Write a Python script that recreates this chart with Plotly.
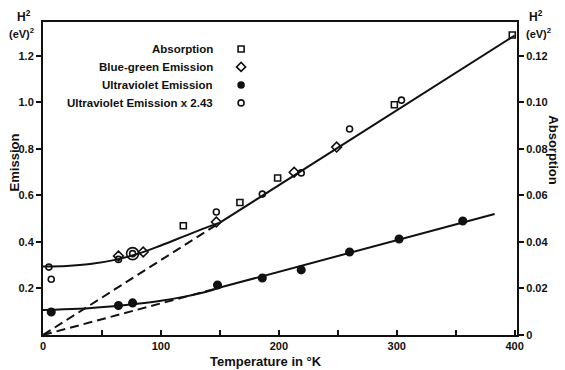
import plotly.graph_objects as go

# ---- data ----
abs_T = [119, 167, 199, 298, 398]
abs_H = [0.047, 0.057, 0.0675, 0.099, 0.129]          # absorption, right axis

bg_T = [64, 85, 147, 213, 249]
bg_H = [0.340, 0.357, 0.486, 0.700, 0.808]             # blue-green emission

uv_T = [7, 64, 76, 148, 186, 219, 260, 302, 356]
uv_H = [0.099, 0.127, 0.138, 0.215, 0.245, 0.280, 0.357, 0.413, 0.490]

uvx_T = [5, 7, 64, 76, 147, 186, 219, 260, 304]
uvx_H = [0.292, 0.240, 0.325, 0.350, 0.529, 0.606, 0.697, 0.886, 1.010]

coinc_T = [76]
coinc_H = [0.350]

# fitted curves
up_curve_T = [0, 20, 40, 60, 80, 100, 120, 140, 150]
up_curve_H = [0.295, 0.297, 0.305, 0.322, 0.348, 0.385, 0.425, 0.465, 0.483]
up_line_T = [150, 400]
up_line_H = [0.483, 1.288]
up_dash_T = [0, 150]
up_dash_H = [0.0, 0.483]

lo_curve_T = [0, 30, 60, 80, 100, 120, 140, 150]
lo_curve_H = [0.108, 0.113, 0.124, 0.134, 0.147, 0.165, 0.188, 0.204]
lo_line_T = [150, 383]
lo_line_H = [0.204, 0.520]
lo_dash_T = [0, 150]
lo_dash_H = [0.0, 0.204]

x_ticks = [0, 100, 200, 300, 400]
x_ticktext = ["0", "100", "200", "300", "400"]
x_minor_ticks = [50, 150, 250, 350]
yl_ticks = [0.2, 0.4, 0.6, 0.8, 1.0, 1.2]
yl_ticktext = ["0.2", "0.4", "0.6", "0.8", "1.0", "1.2"]
yr_ticks = [0, 0.02, 0.04, 0.06, 0.08, 0.10, 0.12]
yr_ticktext = ["0", "0.02", "0.04", "0.06", "0.08", "0.10", "0.12"]

legend_labels = ["Absorption", "Blue-green Emission", "Ultraviolet Emission",
                 "Ultraviolet Emission x 2.43"]
legend_symbols = ["square-open", "diamond-open", "circle", "circle-open"]
legend_key_x = 168
legend_key_y = [1.230, 1.153, 1.075, 0.998]

FONT = "Liberation Sans, Arial, sans-serif"
BLK = "#111111"

fig = go.Figure()

def line(x, y, dash="solid", yaxis="y"):
    fig.add_trace(go.Scatter(x=x, y=y, mode="lines", yaxis=yaxis,
                             line=dict(color=BLK, width=2, dash=dash, shape="spline"),
                             showlegend=False, hoverinfo="skip"))

line(up_curve_T, up_curve_H)
line(up_line_T, up_line_H)
line(up_dash_T, up_dash_H, dash="9px,5px")
line(lo_curve_T, lo_curve_H)
line(lo_line_T, lo_line_H)
line(lo_dash_T, lo_dash_H, dash="9px,5px")

def pts(x, y, symbol, size, yaxis="y"):
    fig.add_trace(go.Scatter(
        x=x, y=y, mode="markers", yaxis=yaxis, showlegend=False,
        marker=dict(symbol=symbol, size=size, color=BLK,
                    line=dict(color=BLK, width=1.6))))

pts(abs_T, abs_H, "square-open", 6, yaxis="y2")
pts(bg_T, bg_H, "diamond-open", 7.5)
pts(uv_T, uv_H, "circle", 7.5)
pts(uvx_T, uvx_H, "circle-open", 6)
pts(coinc_T, coinc_H, "circle-open", 12)

# legend keys
for sym, ky in zip(legend_symbols, legend_key_y):
    pts([legend_key_x], [ky], sym, 6 if sym != "diamond-open" else 7)

annotations = []
for lab, ky in zip(legend_labels, legend_key_y):
    annotations.append(dict(x=legend_key_x - 22, y=ky, xref="x", yref="y",
                            text=lab, showarrow=False, xanchor="right",
                            yanchor="middle",
                            font=dict(family=FONT, size=11.5, color=BLK, weight="bold")))

annotations += [
    dict(x=-0.06, y=0.55, xref="paper", yref="paper", text="Emission",
         textangle=-90, showarrow=False, xanchor="center", yanchor="middle",
         font=dict(family=FONT, size=13, color=BLK, weight="bold")),
    dict(x=1.078, y=0.59, xref="paper", yref="paper", text="Absorption",
         textangle=90, showarrow=False, xanchor="center", yanchor="middle",
         font=dict(family=FONT, size=13, color=BLK, weight="bold")),
    dict(x=0.47, y=-0.085, xref="paper", yref="paper", text="Temperature in °K",
         showarrow=False, xanchor="center", yanchor="middle",
         font=dict(family=FONT, size=13, color=BLK, weight="bold")),
    dict(x=-0.04, y=1.02, xref="paper", yref="paper", text="H<sup>2</sup>",
         showarrow=False, xanchor="center", yanchor="middle",
         font=dict(family=FONT, size=12, color=BLK, weight="bold")),
    dict(x=-0.045, y=0.965, xref="paper", yref="paper", text="(eV)<sup>2</sup>",
         showarrow=False, xanchor="center", yanchor="middle",
         font=dict(family=FONT, size=11, color=BLK, weight="bold")),
    dict(x=1.04, y=1.02, xref="paper", yref="paper", text="H<sup>2</sup>",
         showarrow=False, xanchor="center", yanchor="middle",
         font=dict(family=FONT, size=12, color=BLK, weight="bold")),
    dict(x=1.045, y=0.965, xref="paper", yref="paper", text="(eV)<sup>2</sup>",
         showarrow=False, xanchor="center", yanchor="middle",
         font=dict(family=FONT, size=11, color=BLK, weight="bold")),
]

tickfont = dict(family=FONT, size=11, color=BLK, weight="bold")

fig.update_layout(
    width=565, height=370,
    margin=dict(l=43, r=48, t=22, b=35),
    paper_bgcolor="white", plot_bgcolor="white",
    showlegend=False,
    annotations=annotations,
    xaxis=dict(range=[0, 402], tickvals=x_ticks, ticktext=x_ticktext,
               ticks="inside", ticklen=5, tickwidth=1.5, tickcolor=BLK,
               minor=dict(tickvals=x_minor_ticks, ticks="inside", ticklen=5,
                          tickwidth=1.5, tickcolor=BLK, showgrid=False),
               showline=True, linecolor=BLK, linewidth=2, mirror=True,
               showgrid=False, zeroline=False, tickfont=tickfont),
    yaxis=dict(range=[0, 1.346], tickvals=yl_ticks, ticktext=yl_ticktext,
               ticks="outside", ticklen=5, tickwidth=1.5, tickcolor=BLK,
               showline=True, linecolor=BLK, linewidth=2,
               showgrid=False, zeroline=False, tickfont=tickfont),
    yaxis2=dict(range=[0, 0.1346], tickvals=yr_ticks, ticktext=yr_ticktext,
                overlaying="y", side="right",
                ticks="outside", ticklen=5, tickwidth=1.5, tickcolor=BLK,
                showline=True, linecolor=BLK, linewidth=2,
                showgrid=False, zeroline=False, tickfont=tickfont),
)

fig.write_html("out.html")
